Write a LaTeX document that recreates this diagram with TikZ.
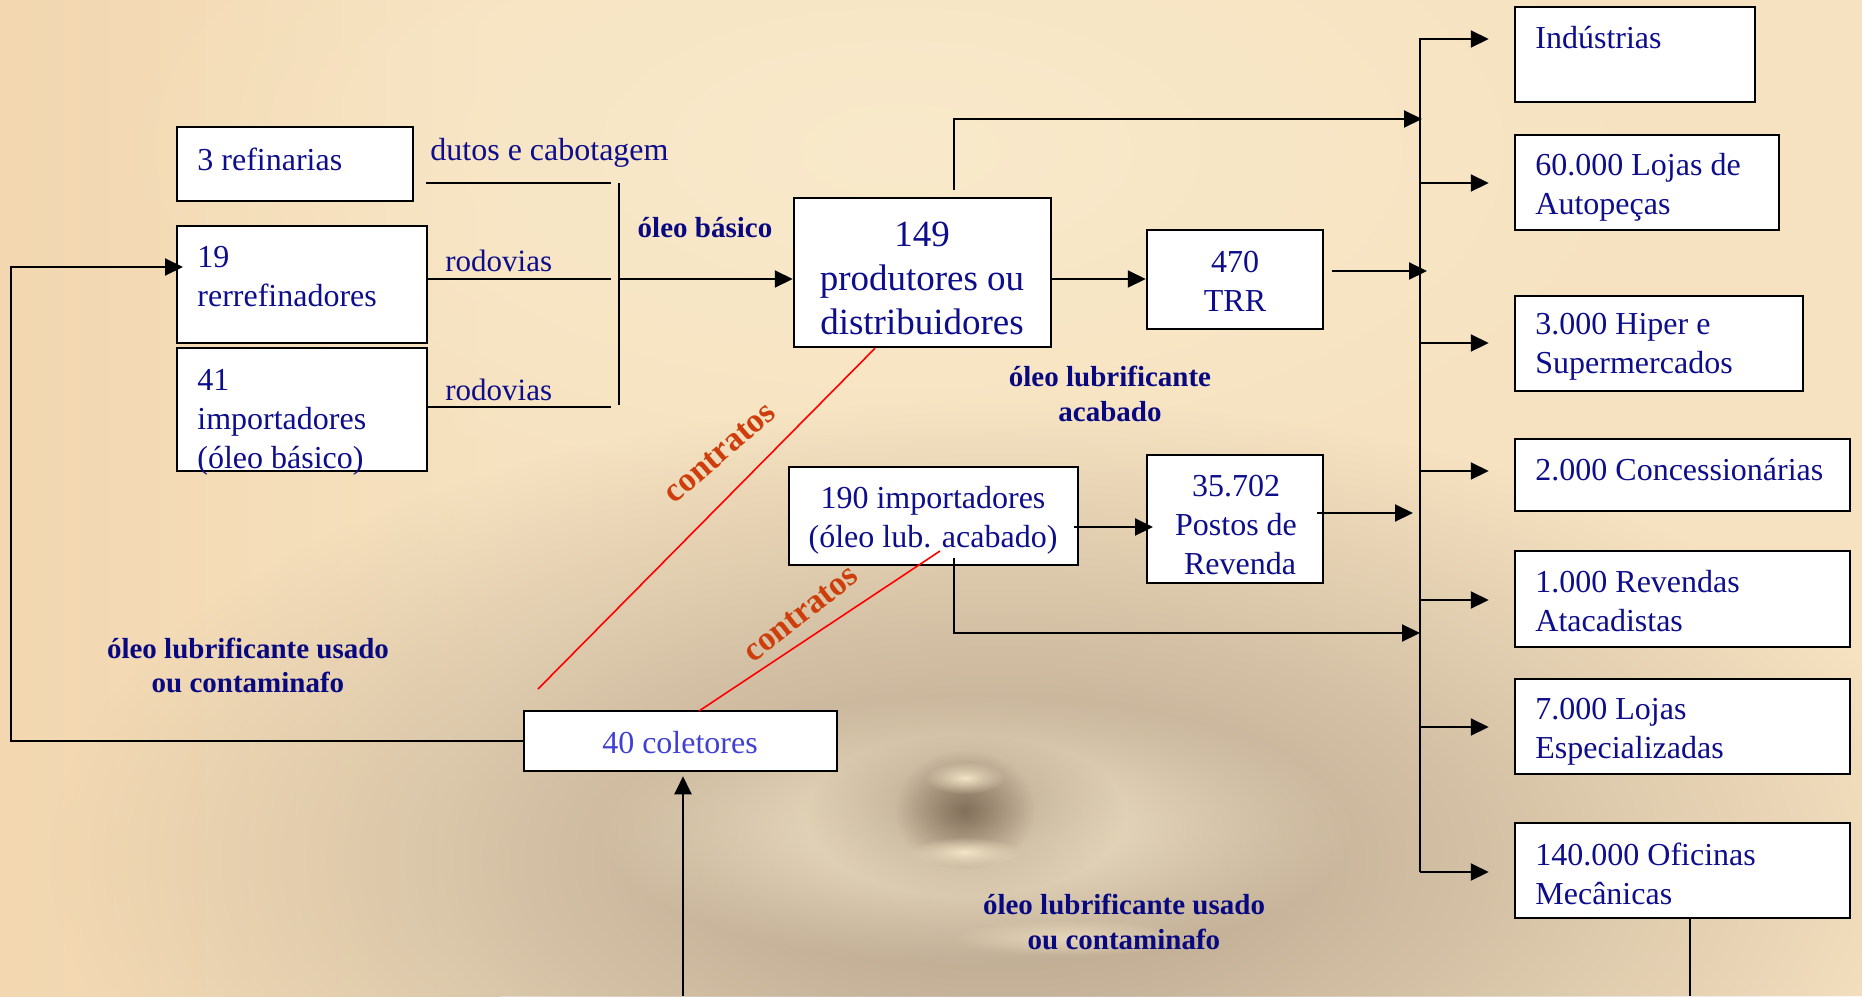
\documentclass[tikz,border=0pt]{standalone}
\usepackage{fontspec}
\setmainfont{Liberation Serif}
\usetikzlibrary{arrows.meta,fit,calc,fadings}
\tikzfading[name=softblob, inner color=transparent!0, outer color=transparent!100]
\definecolor{txtblue}{RGB}{14,14,140}
\definecolor{lblblue}{RGB}{8,8,128}
\definecolor{colblue}{RGB}{64,64,212}
\definecolor{contrcol}{RGB}{206,62,12}
\definecolor{bgbase}{RGB}{246,226,192}
\definecolor{bgleft}{RGB}{242,215,176}
\definecolor{bglight}{RGB}{250,236,206}
\definecolor{bggray}{RGB}{178,160,138}
\definecolor{bgdark}{RGB}{110,90,70}
\begin{document}
\begin{tikzpicture}[x=0.5pt,y=-0.5pt,
  box/.style={draw=black,line width=1.25pt,fill=white,inner sep=0pt},
  txt/.style={text=txtblue,inner sep=0pt,font=\fontsize{16}{19.5}\selectfont},
  bigtxt/.style={text=txtblue,inner sep=0pt,align=center,font=\fontsize{18.5}{22}\selectfont},
  lbl/.style={text=lblblue,inner sep=0pt,align=center,font=\bfseries\fontsize{14.5}{17.25}\selectfont},
  ctr/.style={text=contrcol,inner sep=0pt,font=\bfseries\fontsize{17}{19}\selectfont},
  arr/.style={line width=1pt,-{Triangle[length=9pt,width=8.5pt]}},
  ln/.style={line width=1pt},
  redln/.style={red,line width=0.8pt}
]
\useasboundingbox (0,0) rectangle (1862,996);
% ---------- background ----------
\begin{scope}
\clip (0,0) rectangle (1862,996);
\fill[bgbase] (0,0) rectangle (1862,996);
\shade[left color=bgleft, right color=bgbase] (0,0) rectangle (500,996);
\fill[bglight, path fading=softblob, opacity=0.8] (900,150) ellipse (800 and 380);
\fill[bggray, path fading=softblob] (1000,860) ellipse (950 and 460);
\fill[bglight, path fading=softblob] (975,830) ellipse (380 and 135);
\fill[bgdark, path fading=softblob, opacity=0.45] (965,815) ellipse (160 and 80);
\fill[bgdark, path fading=softblob, opacity=0.7] (965,810) ellipse (70 and 60);
\fill[bglight, path fading=softblob, opacity=0.9] (965,778) ellipse (40 and 16);
\fill[bglight, path fading=softblob, opacity=0.9] (965,852) ellipse (55 and 15);
\fill[bglight, path fading=softblob, opacity=0.6] (1070,938) ellipse (120 and 18);
\end{scope}
% ---------- boxes ----------
\node[box,fit={(177,127)(413,201)}] (ref) {};
\node[box,fit={(177,226)(427,343)}] (rr) {};
\node[box,fit={(177,348)(427,471)}] (imp) {};
\node[box,fit={(794,198)(1051,347)}] (prod) {};
\node[box,fit={(1147,230)(1323,329)}] (trr) {};
\node[box,fit={(789,467)(1078,565)}] (imp2) {};
\node[box,fit={(1147,455)(1323,583)}] (post) {};
\node[box,fit={(524,711)(837,771)}] (col) {};
\node[box,fit={(1515,7)(1755,102)}] (ind) {};
\node[box,fit={(1515,135)(1779,230)}] (auto) {};
\node[box,fit={(1515,296)(1803,391)}] (hip) {};
\node[box,fit={(1515,439)(1850,511)}] (conc) {};
\node[box,fit={(1515,551)(1850,647)}] (rev) {};
\node[box,fit={(1515,679)(1850,774)}] (esp) {};
\node[box,fit={(1515,823)(1850,918)}] (ofi) {};
% ---------- box texts ----------
\node[txt,anchor=west] (t-ref) at (197,159) {3 refinarias};
\node[txt,anchor=west,align=left] (t-rr) at (197,277) {19\\rerrefinadores};
\node[txt,anchor=west,align=left] (t-imp) at (197,422) {41\\importadores\\(óleo básico)};
\node[bigtxt] (t-prod) at (922,278) {149\\produtores ou\\distribuidores};
\node[txt,align=center] (t-trr) at (1235,281.5) {470\\TRR};
\node[txt,align=center] (t-imp2) at (933,520) {190 importadores\\(óleo lub. acabado)};
\node[txt,align=center] (t-post) at (1236,525) {35.702\\Postos de\\\ Revenda};
\node[txt,text=colblue] (t-col) at (680,743) {40 coletores};
\node[txt,anchor=west] (t-ind) at (1535,38) {Indústrias};
\node[txt,anchor=west,align=left] (t-auto) at (1535,187) {60.000 Lojas de\\Autopeças};
\node[txt,anchor=west,align=left] (t-hip) at (1535,347) {3.000 Hiper e\\Supermercados};
\node[txt,anchor=west] (t-conc) at (1535,470) {2.000 Concessionárias};
\node[txt,anchor=west,align=left] (t-rev) at (1535,601.5) {1.000 Revendas\\Atacadistas};
\node[txt,anchor=west,align=left] (t-esp) at (1535,732) {7.000 Lojas\\Especializadas};
\node[txt,anchor=west,align=left] (t-ofi) at (1535,873.5) {140.000 Oficinas\\Mecânicas};
% ---------- labels ----------
\node[txt,anchor=west] (l-dutos) at (430,153) {dutos e cabotagem};
\node[txt,anchor=west,font=\fontsize{15.5}{18}\selectfont] (l-rod1) at (445,261) {rodovias};
\node[txt,anchor=west,font=\fontsize{15.5}{18}\selectfont] (l-rod2) at (445,390) {rodovias};
\node[lbl] (l-basico) at (705,228) {óleo básico};
\node[lbl] (l-acabado) at (1110,394) {óleo lubrificante\\acabado};
\node[lbl] (l-usado1) at (248,665.5) {óleo lubrificante usado\\ou contaminafo};
\node[lbl] (l-usado2) at (1124,922) {óleo lubrificante usado\\ou contaminafo};
\node[ctr,rotate=41] (l-ctr1) at (720,453) {contratos};
\node[ctr,rotate=38] (l-ctr2) at (801,614) {contratos};
% ---------- coordinates ----------
\coordinate (d1) at (426,183);
\coordinate (d2) at (611,183);
\coordinate (r1a) at (427,279);
\coordinate (r1b) at (611,279);
\coordinate (r2a) at (427,407);
\coordinate (r2b) at (611,407);
\coordinate (barT) at (619,183);
\coordinate (barB) at (619,405);
\coordinate (barM) at (619,279);
\coordinate (ptop) at (954,190);
\coordinate (busTop) at (1420,38);
\coordinate (busBot) at (1420,872);
\coordinate (bin1) at (1422,119);
\coordinate (trrout) at (1332,271);
\coordinate (bin2) at (1427,271);
\coordinate (i2out) at (1074,527);
\coordinate (i2in) at (1153,527);
\coordinate (poout) at (1317,513);
\coordinate (bin3) at (1413,513);
\coordinate (i2bot) at (954,558);
\coordinate (bin4) at (1420,633);
\coordinate (ofiB) at (1690,996);
\coordinate (botS) at (683,996);
\coordinate (loopC) at (11,267);
\coordinate (rrin) at (183,267);
\coordinate (red1a) at (538,689);
\coordinate (red2a) at (699,711);
\coordinate (red2b) at (940,551);
% ---------- connectors ----------
\draw[ln] (d1) -- (d2);
\draw[ln] (r1a) -- (r1b);
\draw[ln] (r2a) -- (r2b);
\draw[ln] (barT) -- (barB);
\draw[arr] (barM) -- (barM -| prod.west);
\draw[arr] (prod.east |- 0,279) -- (trr.west |- 0,279);
\draw[arr] (ptop) |- (bin1);
\draw[arr] (trrout) -- (bin2);
\draw[arr] (i2out) -- (i2in);
\draw[arr] (poout) -- (bin3);
\draw[arr] (i2bot) |- (bin4);
\draw[ln] (busTop) -- (busBot);
\foreach \b/\y in {ind/39,auto/183,hip/343,conc/471,rev/600,esp/727,ofi/872}{
  \draw[arr] (1420,\y) -- ($(\b.west |- 0,\y)+(-25,0)$);
}
\draw[ln] (ofi.south -| ofiB) -- (ofiB);
\draw[arr] (botS) -- ($(col.south -| botS)+(0,4)$);
\draw[arr] (col.west) -| (loopC) -- (rrin);
\draw[redln] (red1a) -- (prod.south -| 875,0);
\draw[redln] (red2a) -- (red2b);
\end{tikzpicture}
\end{document}
